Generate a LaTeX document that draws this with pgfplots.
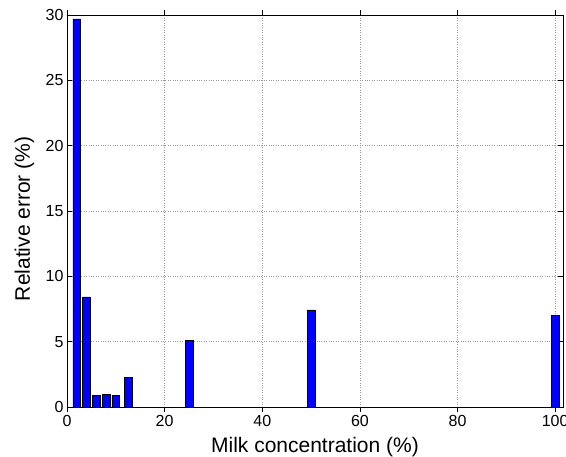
\documentclass[border=0pt]{standalone}
\usepackage{fontspec}
\setmainfont{Liberation Sans}
\usepackage{pgfplots}
\pgfplotsset{compat=1.18}
\begin{document}
\begin{tikzpicture}
\path[use as bounding box] (-67pt,-50pt) rectangle (499pt,407pt);
\begin{axis}[
  at={(0pt,0pt)}, anchor=south west,
  scale only axis, width=496pt, height=392pt,
  xmin=0, xmax=101.6, ymin=0, ymax=30,
  xtick={0,20,...,100}, ytick={0,5,...,30},
  /pgf/number format/assume math mode=true,
  tick label style={font=\fontsize{16}{18}\selectfont},
  label style={font=\fontsize{21}{24}\selectfont},
  xlabel={Milk concentration (\%)},
  ylabel={Relative error (\%)},
  xlabel style={at={(axis description cs:0.5,-0.1161)}, anchor=base},
  ylabel style={at={(axis description cs:-0.0746,0.48)}, anchor=base},
  grid=major,
  major grid style={gray!80, dotted, line width=0.6pt},
  tick align=inside, tick pos=both,
  major tick length=5pt,
  tick style={black, line width=0.5pt},
  axis line style={black, line width=0.8pt},
  ybar, bar width=1.6, bar shift=0pt,
]
\addplot[fill={rgb,255:red,0;green,0;blue,255}, draw=black, line width=0.5pt]
  coordinates {(2,29.7) (4,8.43) (6,0.87) (8,0.95) (10,0.87) (12.5,2.27) (25,5.08) (50,7.43) (100,7.0)};
\end{axis}
\end{tikzpicture}
\end{document}
